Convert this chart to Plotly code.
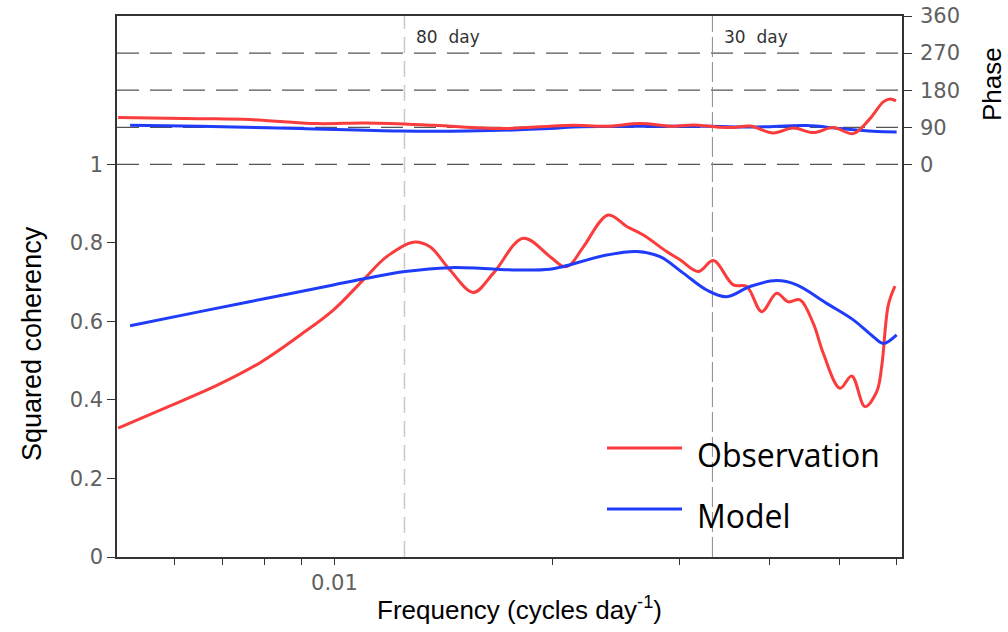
import plotly.graph_objects as go
import math

# ---------------- data ----------------
obs_freq = [0.005022, 0.005861, 0.006876, 0.007891, 0.008962, 0.009965, 0.010965, 0.011813,
            0.012857, 0.013557, 0.014449, 0.015564, 0.016596, 0.018247, 0.019874, 0.020735,
            0.021183, 0.022100, 0.023920, 0.025368, 0.026749, 0.028812, 0.030061, 0.031868,
            0.033430, 0.035625, 0.037183, 0.038998, 0.040905, 0.042440, 0.044055, 0.045962,
            0.047447, 0.050040, 0.051943, 0.054188, 0.056247, 0.057148, 0.058373, 0.059619]
obs_coh = [0.328, 0.381, 0.437, 0.495, 0.565, 0.629, 0.706, 0.765,
           0.802, 0.790, 0.731, 0.674, 0.723, 0.812, 0.765, 0.740,
           0.744, 0.790, 0.871, 0.842, 0.820, 0.778, 0.757, 0.727,
           0.755, 0.693, 0.689, 0.625, 0.672, 0.650, 0.655, 0.595,
           0.519, 0.430, 0.461, 0.383, 0.421, 0.485, 0.642, 0.690]

mod_freq = [0.005217, 0.006516, 0.008063, 0.009965, 0.011084, 0.012522, 0.014449, 0.016069,
            0.017865, 0.019874, 0.020735, 0.023799, 0.026188, 0.028209, 0.030381, 0.032730,
            0.034885, 0.037571, 0.040905, 0.043590, 0.047964, 0.052206, 0.055642, 0.057438,
            0.059935]
mod_coh = [0.589, 0.625, 0.659, 0.693, 0.710, 0.727, 0.737, 0.735,
           0.731, 0.733, 0.740, 0.769, 0.778, 0.765, 0.723, 0.680,
           0.663, 0.689, 0.704, 0.693, 0.646, 0.604, 0.561, 0.544,
           0.566]

obs_phase_freq = [0.005022, 0.006516, 0.007642, 0.009452, 0.011084, 0.013701, 0.016943, 0.019874,
                  0.021408, 0.023799, 0.026467, 0.029428, 0.031362, 0.033793, 0.035625, 0.037571,
                  0.040466, 0.043121, 0.045962, 0.048991, 0.052206, 0.055056, 0.057438, 0.058683,
                  0.059811]
obs_phase = [113.6, 111.0, 108.7, 99.0, 100.5, 94.9, 86.9, 92.5,
             94.9, 92.5, 99.0, 92.5, 95.6, 90.8, 89.3, 93.2,
             76.2, 88.3, 77.1, 89.3, 74.7, 111.0, 151.6, 158.9,
             154.0]

mod_phase_freq = [0.005217, 0.006516, 0.008962, 0.012324, 0.015241, 0.019874, 0.021408, 0.026467,
                  0.032730, 0.038383, 0.045009, 0.050040, 0.055642, 0.059935]
mod_phase = [94.9, 92.5, 86.9, 81.0, 81.0, 86.9, 90.8, 92.5,
             92.5, 90.8, 94.2, 86.9, 80.3, 78.6]

period_freqs = [1 / 80, 1 / 30]
period_labels = ["80\u00a0 day", "30\u00a0 day"]

coh_ticks = [0, 0.2, 0.4, 0.6, 0.8, 1]
coh_ticklabels = ["0", "0.2", "0.4", "0.6", "0.8", "1"]
phase_ticks = [0, 90, 180, 270, 360]
phase_dash_levels = [0, 90, 180, 270]
freq_major_ticks = [0.01]
freq_major_labels = ["0.01"]
freq_minor_ticks = [0.006, 0.007, 0.008, 0.009, 0.02, 0.03, 0.04, 0.05, 0.06]

# ---------------- layout geometry ----------------
W, H = 1008, 632
L, R, T, B = 117, 902, 16, 557
YTOP = 1.378                      # left axis top (coherency units)
PH_BOTTOM = -(360.0 / (YTOP - 1.0))  # phase value at bottom so that phase 0 aligns with coherency 1

RED = "rgb(250,60,60)"
BLUE = "rgb(30,60,250)"
TICKFONT = dict(family="DejaVu Sans", size=21, color="#606060")


def px(x):
    return (x - L) / (R - L)


def py(y):
    return (B - y) / (B - T)


fig = go.Figure()

# vertical period lines
fig.add_trace(go.Scatter(x=[period_freqs[0]] * 2, y=[0, YTOP], mode="lines",
                         line=dict(color="#c8c8c8", width=1.5, dash="16px,8px"),
                         showlegend=False, hoverinfo="skip"))
fig.add_trace(go.Scatter(x=[period_freqs[1]] * 2, y=[0, YTOP], mode="lines",
                         line=dict(color="#8a8a8a", width=1, dash="20px,5px"),
                         showlegend=False, hoverinfo="skip"))

# coherency
fig.add_trace(go.Scatter(x=obs_freq, y=obs_coh, mode="lines", line=dict(color=RED, width=3, shape="spline"),
                         name="Observation", showlegend=False))
fig.add_trace(go.Scatter(x=mod_freq, y=mod_coh, mode="lines", line=dict(color=BLUE, width=3, shape="spline"),
                         name="Model", showlegend=False))

# phase
fig.add_trace(go.Scatter(x=mod_phase_freq, y=mod_phase, yaxis="y2", mode="lines",
                         line=dict(color=BLUE, width=3, shape="spline"), showlegend=False))
fig.add_trace(go.Scatter(x=obs_phase_freq, y=obs_phase, yaxis="y2", mode="lines",
                         line=dict(color=RED, width=3, shape="spline"), showlegend=False))

shapes = []
for lev in phase_dash_levels:
    shapes.append(dict(type="line", xref="paper", yref="y2", x0=0, x1=1, y0=lev, y1=lev,
                       line=dict(color="#555555", width=1.2, dash="22px,11px"), layer="below"))
# legend samples
shapes.append(dict(type="line", xref="paper", yref="paper", x0=px(607), x1=px(682), y0=py(448), y1=py(448),
                   line=dict(color=RED, width=3)))
shapes.append(dict(type="line", xref="paper", yref="paper", x0=px(607), x1=px(682), y0=py(509), y1=py(509),
                   line=dict(color=BLUE, width=3)))

annotations = []
for f, lab in zip(period_freqs, period_labels):
    annotations.append(dict(text=lab, xref="x", yref="y", x=math.log10(f), y=1.325, xanchor="left",
                            yanchor="middle", xshift=10, showarrow=False,
                            font=dict(family="DejaVu Sans", size=17, color="#333333")))
annotations += [
    dict(text="Observation", xref="paper", yref="paper", x=px(695), y=py(454), xanchor="left", yanchor="middle",
         showarrow=False, font=dict(family="Open Sans", size=32, color="black")),
    dict(text="Model", xref="paper", yref="paper", x=px(695), y=py(515), xanchor="left", yanchor="middle",
         showarrow=False, font=dict(family="Open Sans", size=32, color="black")),
    dict(text="Squared coherency", xref="paper", yref="paper", x=px(32), y=py(344), textangle=-90,
         xanchor="center", yanchor="middle", showarrow=False,
         font=dict(family="Liberation Sans", size=27, color="black")),
    dict(text="Phase", xref="paper", yref="paper", x=px(992), y=py(84), textangle=-90,
         xanchor="center", yanchor="middle", showarrow=False,
         font=dict(family="Liberation Sans", size=26, color="black")),
    dict(text="Frequency (cycles day<sup>-1</sup>)", xref="paper", yref="paper", x=px(519), y=py(608),
         xanchor="center", yanchor="middle", showarrow=False,
         font=dict(family="Liberation Sans", size=26, color="black")),
]

fig.update_layout(
    width=W, height=H,
    margin=dict(l=L, r=W - R, t=T, b=H - B, autoexpand=False),
    paper_bgcolor="white", plot_bgcolor="white",
    shapes=shapes, annotations=annotations,
    xaxis=dict(type="log", range=[-2.3007, -1.2149], tickvals=freq_major_ticks, ticktext=freq_major_labels,
               ticks="outside", ticklen=6, tickcolor="#333", tickwidth=1.2, showgrid=False, zeroline=False,
               showline=True, linecolor="#333", linewidth=1.5, mirror=True, tickfont=TICKFONT,
               automargin=False,
               minor=dict(tickvals=freq_minor_ticks, ticks="outside", ticklen=6, tickcolor="#333",
                          tickwidth=1.2, showgrid=False)),
    yaxis=dict(range=[0, YTOP], tickvals=coh_ticks, ticktext=coh_ticklabels, ticks="outside", ticklen=8,
               tickcolor="#333", tickwidth=1.2, showgrid=False, zeroline=False, showline=True,
               linecolor="#333", linewidth=1.5, tickfont=TICKFONT, automargin=False),
    yaxis2=dict(overlaying="y", side="right", range=[PH_BOTTOM, 360], tickvals=phase_ticks,
                ticks="outside", ticklen=8, tickcolor="#333", tickwidth=1.2, showgrid=False, zeroline=False,
                showline=True, linecolor="#333", linewidth=1.5, tickfont=TICKFONT, automargin=False,
                ticklabelstandoff=4),
    showlegend=False,
)

fig.write_html("out.html")
